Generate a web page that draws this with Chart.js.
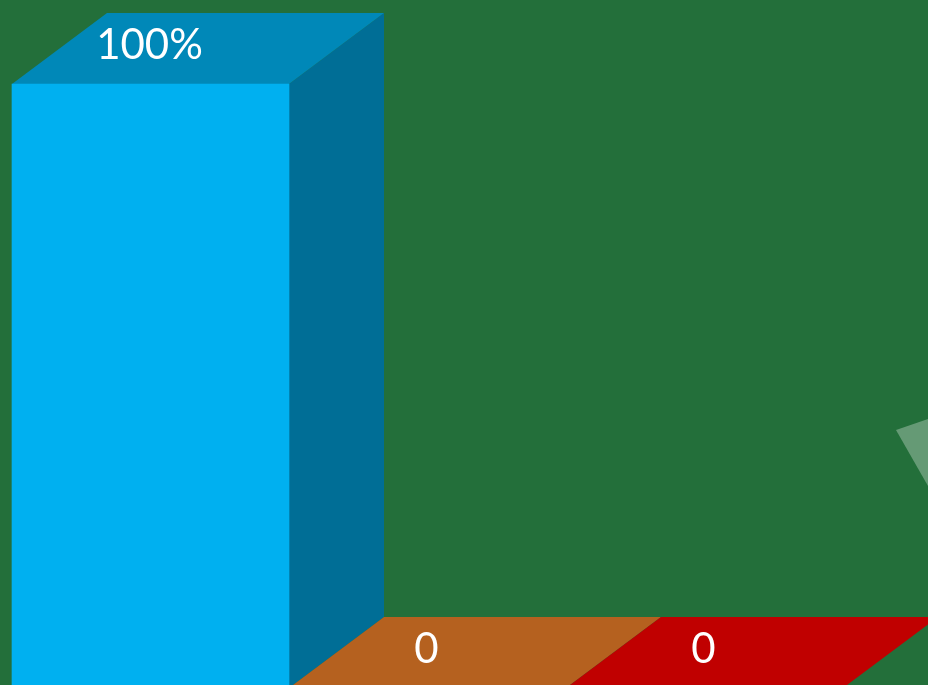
<!DOCTYPE html>
<html>
<head>
<meta charset="utf-8">
<script src="https://cdn.jsdelivr.net/npm/chart.js@4/dist/chart.umd.min.js"></script>
<style>
  html, body { margin: 0; padding: 0; background: #236f3a; overflow: hidden; }
  #wrap { width: 928px; height: 685px; position: relative; overflow: hidden; }
</style>
</head>
<body>
<div id="wrap"><canvas id="chart" width="928" height="688"></canvas></div>
<script>
// datos
const categories = ['Serie 1', 'Serie 2', 'Serie 3'];
const values = [100, 0, 0];
const valueLabels = ['100%', '0', '0'];

// colores de cada barra (frente, tapa, lado)
const frontColors = ['#00b0f0', '#ed7d31', '#ff0000'];
const topColors = ['#0088b8', '#b5611f', '#c00000'];
const sideColors = ['#006e96', '#8c4a17', '#900000'];

const DEPTH_X = 95, DEPTH_Y = -71;

function poly(ctx, pts, color) {
    ctx.beginPath();
    ctx.moveTo(pts[0][0], pts[0][1]);
    for (let i = 1; i < pts.length; i++) ctx.lineTo(pts[i][0], pts[i][1]);
    ctx.closePath();
    ctx.fillStyle = color;
    ctx.fill();
}

// caras 3D (tapa y lado) a partir de los elementos de Chart.js
const bars3d = {
    id: 'bars3d',
    beforeDatasetsDraw(chart) {
        const ctx = chart.ctx;
        const meta = chart.getDatasetMeta(0);
        ctx.save();
        meta.data.forEach((bar, i) => {
            const p = bar.getProps(['x', 'y', 'base', 'width'], true);
            const l = p.x - p.width / 2, r = p.x + p.width / 2;
            const t = Math.min(p.y, p.base), b = Math.max(p.y, p.base);
            // lado
            if (b - t > 0.5) {
                poly(ctx, [[r, t], [r + DEPTH_X, t + DEPTH_Y], [r + DEPTH_X, b + DEPTH_Y], [r, b]], sideColors[i]);
            }
            // tapa
            poly(ctx, [[l, t], [l + DEPTH_X, t + DEPTH_Y], [r + DEPTH_X, t + DEPTH_Y], [r, t]], topColors[i]);
        });
        ctx.restore();
    },
    afterDatasetsDraw(chart) {
        const ctx = chart.ctx;
        const meta = chart.getDatasetMeta(0);
        ctx.save();
        ctx.fillStyle = '#ffffff';
        ctx.font = '42px Lato, "Open Sans", sans-serif';
        ctx.textAlign = 'center';
        ctx.textBaseline = 'middle';
        meta.data.forEach((bar, i) => {
            const p = bar.getProps(['x', 'y', 'base'], true);
            const t = Math.min(p.y, p.base);
            ctx.fillText(valueLabels[i], p.x - 1, t + DEPTH_Y / 2 - 3);
        });
        ctx.restore();
    },
    afterDraw(chart) {
        // trozo de forma translúcida que asoma por la derecha
        const ctx = chart.ctx, w = chart.width;
        ctx.save();
        poly(ctx, [[w - 32, 430], [w, 419], [w, 486]], 'rgba(255,255,255,0.3)');
        ctx.restore();
    }
};

new Chart(document.getElementById('chart'), {
    type: 'bar',
    data: {
        labels: categories,
        datasets: [{
            data: values,
            backgroundColor: frontColors,
            borderWidth: 0,
            barPercentage: 1,
            categoryPercentage: 1,
            clip: false
        }]
    },
    options: {
        responsive: false,
        animation: false,
        layout: { padding: { left: 12, right: 85, top: 84, bottom: 0 } },
        plugins: { legend: { display: false }, tooltip: { enabled: false } },
        scales: {
            x: { display: false },
            y: { display: false, min: 0, max: 100 }
        }
    },
    plugins: [bars3d]
});
</script>
</body>
</html>
